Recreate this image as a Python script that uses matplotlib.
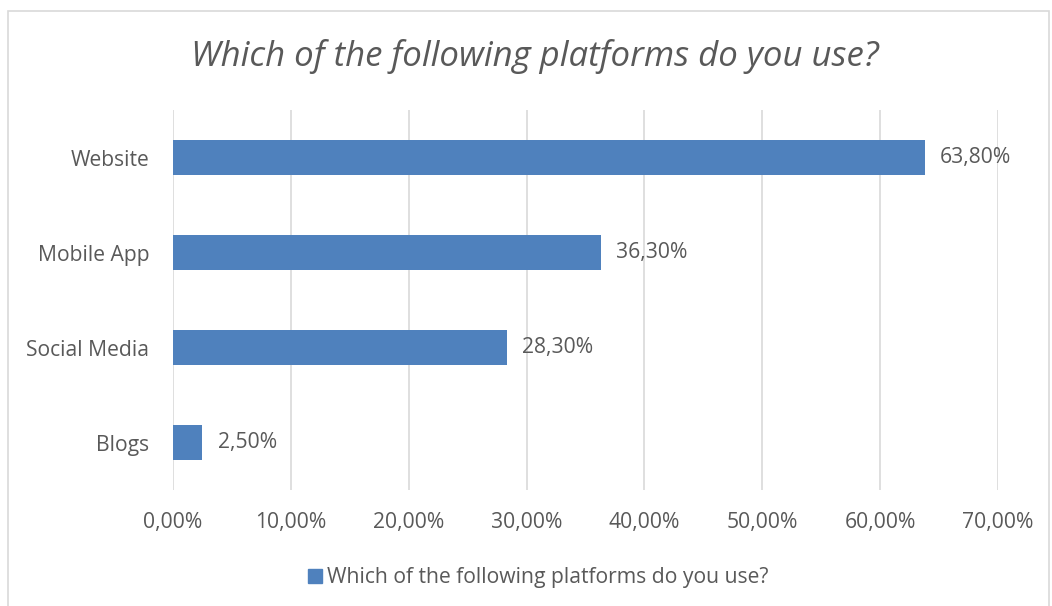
import matplotlib
matplotlib.use("Agg")
import matplotlib.pyplot as plt
from matplotlib.patches import Rectangle

categories = ["Website", "Mobile App", "Social Media", "Blogs"]
values = [63.8, 36.3, 28.3, 2.5]
x_ticks = [0, 10, 20, 30, 40, 50, 60, 70]
title = "Which of the following platforms do you use?"

plt.rcParams["font.family"] = ["Open Sans", "DejaVu Sans"]
text_color = "#595959"
bar_color = "#4F81BD"
grid_color = "#D9D9D9"
fs = 15.2


def pct(v):
    return f"{v:.2f}%".replace(".", ",")


fig = plt.figure(figsize=(10.52, 6.06), dpi=100)
fig.patches.append(Rectangle((8 / 1052, -0.01), 1041 / 1052, 1 - 11 / 606 + 0.01,
                             transform=fig.transFigure, fill=False,
                             edgecolor="#D9D9D9", linewidth=1.2))

ax = fig.add_axes([173 / 1052, 1 - 490 / 606, 825 / 1052, 380 / 606])
y = list(range(len(categories)))
ax.barh(y, values, height=0.36, color=bar_color, zorder=3)
ax.set_ylim(len(categories) - 0.5, -0.5)
ax.set_xlim(0, 70)
ax.set_yticks(y)
ax.set_yticklabels(categories)
ax.set_xticks(x_ticks)
ax.set_xticklabels([pct(t) for t in x_ticks])
ax.xaxis.grid(True, color=grid_color, linewidth=1.2, zorder=0)
for s in ax.spines.values():
    s.set_visible(False)
ax.tick_params(axis="both", length=0, labelsize=fs, colors=text_color)
ax.tick_params(axis="y", pad=17)
ax.tick_params(axis="x", pad=16)

for yi, v in zip(y, values):
    ax.annotate(pct(v), (v, yi), xytext=(11, 0), textcoords="offset points",
                va="center", ha="left", fontsize=fs, color=text_color)

fig.text(535 / 1052, 1 - 56 / 606, title, ha="center", va="center",
         fontsize=25, style="italic", color=text_color)

fig.patches.append(Rectangle((308 / 1052, 1 - 583 / 606), 14 / 1052, 14 / 606,
                             transform=fig.transFigure, color=bar_color))
fig.text(327 / 1052, 1 - 577 / 606, title, ha="left", va="center",
         fontsize=fs, color=text_color)

fig.savefig("out.png", dpi=100)
